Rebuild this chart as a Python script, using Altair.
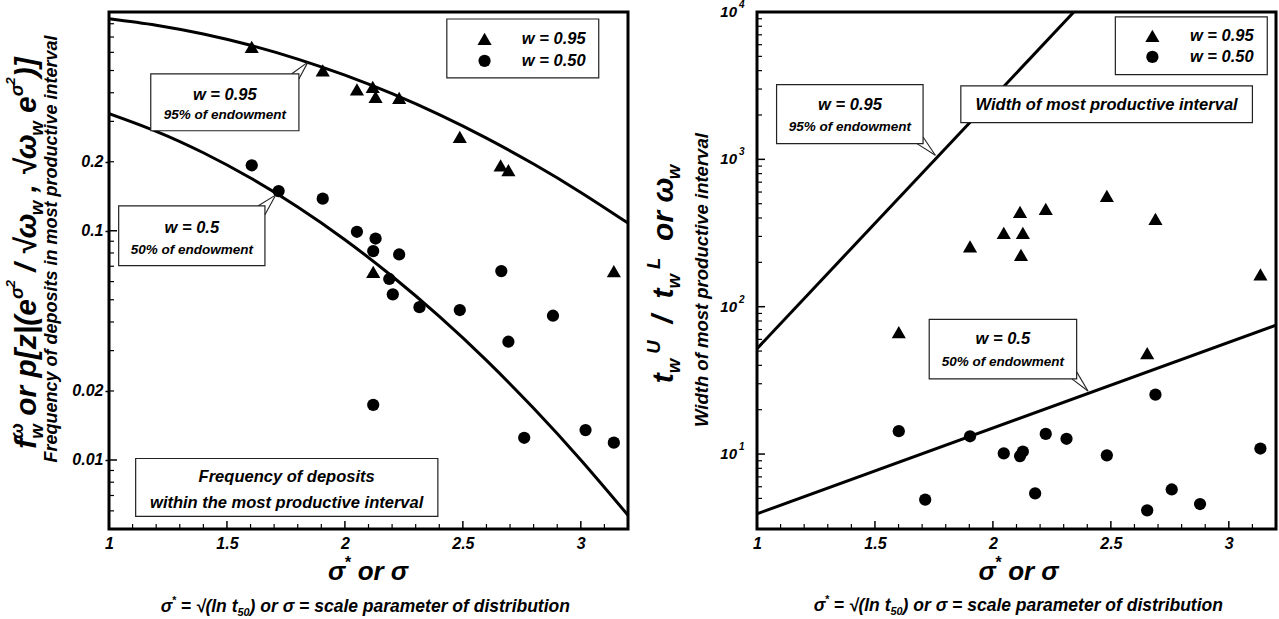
import altair as alt
import pandas as pd

FONT = "Liberation Sans"
PW, PH = 519, 517

# ---------------- data: left panel (frequency) ----------------
L_TRI_S = [1.605, 1.906, 2.051, 2.118, 2.13, 2.23, 2.487, 2.66, 2.693, 2.12, 3.14]
L_TRI_V = [0.634, 0.501, 0.414, 0.424, 0.384, 0.380, 0.257, 0.193, 0.184, 0.0662, 0.0667]
L_CIR_S = [1.605, 1.719, 1.906, 2.051, 2.13, 2.12, 2.23, 2.663, 2.188, 2.203, 2.316, 2.487,
           2.882, 2.693, 2.12, 2.76, 3.02, 3.14]
L_CIR_V = [0.193, 0.149, 0.138, 0.099, 0.0925, 0.0815, 0.0788, 0.0667, 0.0616, 0.0528, 0.0464,
           0.0451, 0.0426, 0.0328, 0.0174, 0.0125, 0.0135, 0.0119]
L_C95_S = [1.0, 1.2, 1.4, 1.6, 1.8, 2.0, 2.2, 2.4, 2.6, 2.8, 3.0, 3.2]
L_C95_V = [0.841, 0.788, 0.721, 0.644, 0.561, 0.477, 0.396, 0.321, 0.2535, 0.1954, 0.147, 0.108]
L_C50_S = [1.0, 1.2, 1.4, 1.6, 1.8, 2.0, 2.2, 2.4, 2.6, 2.8, 3.0, 3.2]
L_C50_V = [0.3243, 0.2716, 0.2189, 0.1698, 0.127, 0.0914, 0.0633, 0.0423, 0.0272, 0.0168,
           0.0100, 0.00574]

# ---------------- data: right panel (width) ----------------
R_TRI_S = [1.601, 1.903, 2.046, 2.115, 2.127, 2.119, 2.224, 2.483, 2.654, 2.689, 3.134]
R_TRI_V = [67.3, 257, 317, 440, 317, 225, 462, 565, 48.5, 395, 166]
R_CIR_S = [1.601, 1.713, 1.903, 2.046, 2.115, 2.127, 2.179, 2.224, 2.312, 2.483, 2.654, 2.689,
           2.758, 2.878, 3.134]
R_CIR_V = [14.3, 4.90, 13.2, 10.1, 9.69, 10.4, 5.41, 13.7, 12.7, 9.8, 4.15, 25.3, 5.75, 4.58, 10.9]
R_L95_S = [1.0, 2.343]
R_L95_V = [51.9, 10000]
R_L50_S = [1.0, 3.2]
R_L50_V = [3.93, 74.9]

# ---------------- axes / ticks ----------------
X_DOMAIN = [1, 3.2]
L_Y_DOMAIN = [0.005, 0.9]
R_Y_DOMAIN = [3.1, 10000]
X_LABELS = [1, 1.5, 2, 2.5, 3]
X_MINOR = [1.1, 1.2, 1.3, 1.4, 1.6, 1.7, 1.8, 1.9, 2.1, 2.2, 2.3, 2.4, 2.6, 2.7, 2.8, 2.9, 3.1]
L_Y_LABELS = [0.01, 0.02, 0.1, 0.2]
L_Y_MAJOR = [0.01, 0.1]
L_Y_MINOR = [0.006, 0.007, 0.008, 0.009, 0.02, 0.03, 0.04, 0.05, 0.06, 0.07, 0.08, 0.09,
             0.2, 0.3, 0.4, 0.5, 0.6, 0.7, 0.8]
R_Y_LABELS = [10, 100, 1000, 10000]
R_Y_EXP = ["1", "2", "3", "4"]
R_Y_MINOR = [4, 5, 6, 7, 8, 9, 20, 30, 40, 50, 60, 70, 80, 90, 200, 300, 400, 500, 600, 700,
             800, 900, 2000, 3000, 4000, 5000, 6000, 7000, 8000, 9000]

# ---------------- annotations ----------------
L_BOX_X0 = [1.177, 1.041, 1.113, 2.432]
L_BOX_X1 = [1.805, 1.661, 2.394, 3.076]
L_BOX_Y0 = [0.273, 0.0704, 0.00568, 0.464]
L_BOX_Y1 = [0.483, 0.1285, 0.01015, 0.839]
L_TXT = ["w = 0.95", "95% of endowment", "w = 0.5", "50% of endowment",
         "Frequency of deposits", "within the most productive interval"]
L_TXT_X = [1.491, 1.491, 1.351, 1.351, 1.753, 1.753]
L_TXT_Y = [0.392, 0.320, 0.103, 0.0826, 0.00839, 0.00646]
L_TXT_FS = [16.5, 13.5, 16.5, 13.5, 16.5, 16.5]
L_PTR_X0 = [1.775, 1.805, 1.633, 1.661]
L_PTR_Y0 = [0.484, 0.459, 0.1285, 0.1174]
L_PTR_X1 = [1.843, 1.843, 1.706, 1.706]
L_PTR_Y1 = [0.544, 0.544, 0.143, 0.143]
L_LEG_X, L_LEG_TX = 2.592, 2.75
L_LEG_Y = [0.687, 0.551]

R_BOX_X0 = [2.519, 1.864, 1.083, 1.730]
R_BOX_X1 = [3.163, 3.10, 1.704, 2.355]
R_BOX_Y0 = [3758, 1774, 1279, 32.4]
R_BOX_Y1 = [9270, 3148, 3214, 82.1]
R_TXT = ["Width of most productive interval", "w = 0.95", "95% of endowment",
         "w = 0.5", "50% of endowment"]
R_TXT_X = [2.482, 1.394, 1.394, 2.042, 2.042]
R_TXT_Y = [2339, 2339, 1667, 60.7, 42.4]
R_TXT_FS = [16.5, 16.5, 13.5, 16.5, 13.5]
R_PTR_X0 = [1.678, 1.704, 2.335, 2.355]
R_PTR_Y0 = [1279, 1419, 32.4, 36.1]
R_PTR_X1 = [1.756, 1.756, 2.403, 2.403]
R_PTR_Y1 = [1067, 1067, 26.8, 26.8]
R_LEG_X, R_LEG_TX = 2.676, 2.835
R_LEG_Y = [6890, 4955]
LEG_TXT = ["w = 0.95", "w = 0.50"]

# ---------------- rich (sub/superscript) titles ----------------
L_YT_BIG = [("f", "base"), ("w", "sub", True), ("ω", "sup"), (" or p[z|(e", "base"),
            ("σ", "sup"), ("2", "ss"), (" / √ω", "base"), ("w", "sub"), (" , √ω", "base"),
            ("w", "sub"), (" e", "base"), ("σ", "sup"), ("2", "ss"), (")]", "base")]
L_YT_SMALL = [("Frequency of deposits in most productive interval", "base")]
R_YT_BIG = [("t", "base"), ("w", "sub"), (" U", "sup"), ("  /", "base"), ("  t", "base"),
            ("w", "sub"), (" L", "sup"), ("  or", "base"), (" ω", "base"), ("w", "sub")]
R_YT_SMALL = [("Width of most productive interval", "base")]
XT = [("σ", "base"), ("*", "sup"), (" or σ", "base")]
SUBT = [("σ", "base"), ("*", "sup"), (" = √(ln t", "base"), ("50", "sub"),
        (") or σ = scale parameter of distribution", "base")]

CW = {' ': 278, '(': 333, ')': 333, '*': 389, ',': 278, '.': 278, '/': 278, '=': 584, '[': 333,
      ']': 333, '|': 280, '%': 889, 'F': 611, 'W': 944, 'U': 722, 'L': 611, 'σ': 620, 'ω': 780,
      '√': 549}
for _c in '0123456789':
    CW[_c] = 556
CW.update(dict(a=556, b=611, c=556, d=611, e=556, f=333, g=611, h=611, i=278, j=278, k=556,
               l=278, m=889, n=611, o=611, p=611, q=611, r=389, s=556, t=333, u=611, v=556,
               w=778, x=556, y=556, z=500))
SC = {'base': 1.0, 'sub': 0.62, 'sup': 0.62, 'ss': 0.45}
SH = {'base': 0.0, 'sub': -0.24, 'sup': 0.45, 'ss': 0.7}


def rich(segs, B, center, base, rotated=False):
    pieces, adv = [], 0.0
    for seg in segs:
        t, role = seg[0], seg[1]
        noadv = len(seg) > 2 and seg[2]
        fs = B * SC[role]
        lead = len(t) - len(t.lstrip(' '))
        w = sum(CW.get(c, 556) for c in t) / 1000 * fs
        pieces.append((t.strip(' '), fs, adv + lead * CW[' '] / 1000 * fs, SH[role] * B))
        if not noadv:
            adv += w
    rows = []
    for t, fs, a, sh in pieces:
        if rotated:
            rows.append(dict(px=base - sh, py=center + adv / 2 - a, text=t, fs=fs, ang=270))
        else:
            rows.append(dict(px=center - adv / 2 + a, py=base - sh, text=t, fs=fs, ang=0))
    return rows


TXT = dict(font=FONT, fontStyle="italic", fontWeight="bold", color="black")
XS = alt.Scale(domain=X_DOMAIN, nice=False, zero=False)
XAXIS = alt.Axis(values=X_LABELS, format="~g", labelFont=FONT, labelFontSize=16,
                 labelFontStyle="italic", labelFontWeight="bold", labelColor="black",
                 ticks=False, domain=False, grid=False, title=None, labelPadding=6,
                 labelFlush=False, zindex=2)


def panel(ys, yaxis, tri, cir, lines, interp, boxes, texts, ptrs, leg, rich_rows,
          ymajor, yminor, extra):
    def X(f):
        return alt.X(f"{f}:Q", scale=XS, axis=XAXIS)

    def Y(f):
        return alt.Y(f"{f}:Q", scale=ys, axis=yaxis)

    layers = list(extra)
    ldf = pd.concat([pd.DataFrame({"s": s, "v": v, "k": k}) for k, (s, v) in enumerate(lines)])
    layers.append(alt.Chart(ldf).mark_line(color="black", strokeWidth=3, interpolate=interp,
                                           clip=True).encode(x=X("s"), y=Y("v"), detail="k:N"))
    layers.append(alt.Chart(pd.DataFrame({"s": tri[0], "v": tri[1]})).mark_point(
        shape="triangle-up", filled=True, color="black", size=200, opacity=1).encode(x=X("s"), y=Y("v")))
    layers.append(alt.Chart(pd.DataFrame({"s": cir[0], "v": cir[1]})).mark_point(
        shape="circle", filled=True, color="black", size=150, opacity=1).encode(x=X("s"), y=Y("v")))
    bdf = pd.DataFrame({"x0": boxes[0], "x1": boxes[1], "y0": boxes[2], "y1": boxes[3]})
    layers.append(alt.Chart(bdf).mark_rect(fill="white", stroke="#222", strokeWidth=1.2).encode(
        x=X("x0"), x2="x1:Q", y=Y("y0"), y2="y1:Q"))
    pdf = pd.DataFrame({"x0": ptrs[0], "y0": ptrs[1], "x1": ptrs[2], "y1": ptrs[3]})
    layers.append(alt.Chart(pdf).mark_rule(color="#222", strokeWidth=1.1).encode(
        x=X("x0"), y=Y("y0"), x2="x1:Q", y2="y1:Q"))
    tdf = pd.DataFrame({"t": texts[0], "s": texts[1], "v": texts[2], "fs": texts[3]})
    layers.append(alt.Chart(tdf).mark_text(align="center", baseline="middle", **TXT).encode(
        x=X("s"), y=Y("v"), text="t:N", size=alt.Size("fs:Q", scale=None, legend=None)))
    # legend inside box
    layers.append(alt.Chart(pd.DataFrame({"s": [leg[0]], "v": [leg[2][0]]})).mark_point(
        shape="triangle-up", filled=True, color="black", size=200, opacity=1).encode(x=X("s"), y=Y("v")))
    layers.append(alt.Chart(pd.DataFrame({"s": [leg[0]], "v": [leg[2][1]]})).mark_point(
        shape="circle", filled=True, color="black", size=150, opacity=1).encode(x=X("s"), y=Y("v")))
    layers.append(alt.Chart(pd.DataFrame({"s": [leg[1]] * 2, "v": leg[2], "t": LEG_TXT})).mark_text(
        align="left", baseline="middle", fontSize=16.5, **TXT).encode(x=X("s"), y=Y("v"), text="t:N"))
    # ticks
    layers.append(alt.Chart(pd.DataFrame({"t": X_LABELS})).mark_rule(color="black", strokeWidth=1.5).encode(
        x=X("t"), y=alt.value(PH), y2=alt.value(PH - 8)))
    layers.append(alt.Chart(pd.DataFrame({"t": X_MINOR})).mark_rule(color="black", strokeWidth=1.2).encode(
        x=X("t"), y=alt.value(PH), y2=alt.value(PH - 5)))
    layers.append(alt.Chart(pd.DataFrame({"t": ymajor})).mark_rule(color="black", strokeWidth=1.5).encode(
        y=Y("t"), x=alt.value(0), x2=alt.value(8)))
    layers.append(alt.Chart(pd.DataFrame({"t": yminor})).mark_rule(color="black", strokeWidth=1.2).encode(
        y=Y("t"), x=alt.value(0), x2=alt.value(5)))
    # frame
    layers.append(alt.Chart(pd.DataFrame({"a": [0]})).mark_rect(
        fill="white", fillOpacity=0, stroke="black", strokeWidth=3).encode(
        x=alt.value(0), x2=alt.value(PW), y=alt.value(0), y2=alt.value(PH)))
    # rich titles
    layers.append(alt.Chart(pd.DataFrame(rich_rows)).mark_text(
        align="left", baseline="alphabetic", **TXT).encode(
        x=alt.X("px:Q", scale=None, axis=None), y=alt.Y("py:Q", scale=None, axis=None),
        text="text:N", size=alt.Size("fs:Q", scale=None, legend=None),
        angle=alt.Angle("ang:Q", scale=None)))
    return alt.layer(*layers).properties(width=PW, height=PH)


# ---------------- left panel ----------------
LYS = alt.Scale(type="log", domain=L_Y_DOMAIN, nice=False)
LYAXIS = alt.Axis(values=L_Y_LABELS, format="~g", labelFont=FONT, labelFontSize=16,
                  labelFontStyle="italic", labelFontWeight="bold", labelColor="black",
                  ticks=True, tickSize=4, tickColor="black", tickWidth=1.5, domain=False,
                  grid=False, title=None, labelPadding=2, zindex=2)
anchor = alt.Chart(pd.DataFrame({"a": [0]})).mark_rect(fill="white").encode(
    x=alt.value(-109), x2=alt.value(1170), y=alt.value(-10), y2=alt.value(609))
l_rich = (rich(L_YT_BIG, 30, 241, -73, True) + rich(L_YT_SMALL, 18, 237, -52, True)
          + rich(XT, 26, 258.5, 568) + rich(SUBT, 17.5, 256, 600))
left = panel(LYS, LYAXIS, (L_TRI_S, L_TRI_V), (L_CIR_S, L_CIR_V),
             [(L_C95_S, L_C95_V), (L_C50_S, L_C50_V)], "natural",
             (L_BOX_X0, L_BOX_X1, L_BOX_Y0, L_BOX_Y1),
             (L_TXT, L_TXT_X, L_TXT_Y, L_TXT_FS),
             (L_PTR_X0, L_PTR_Y0, L_PTR_X1, L_PTR_Y1),
             (L_LEG_X, L_LEG_TX, L_LEG_Y), l_rich, L_Y_MAJOR, L_Y_MINOR, [anchor])

# ---------------- right panel ----------------
RYS = alt.Scale(type="log", domain=R_Y_DOMAIN, nice=False)
RYAXIS = None
r_rich = (rich(R_YT_BIG, 30, 262, -84, True) + rich(R_YT_SMALL, 18.5, 268, -49, True)
          + rich(XT, 26, 261, 568) + rich(SUBT, 17.5, 261, 599))
ylab = pd.DataFrame({"v": R_Y_LABELS, "e": R_Y_EXP, "b": ["10"] * 4})
r_extra = [
    alt.Chart(ylab).mark_text(align="right", baseline="middle", fontSize=15, **TXT).encode(
        y=alt.Y("v:Q", scale=RYS, axis=None), x=alt.value(-20), text="b:N"),
    alt.Chart(ylab).mark_text(align="left", baseline="middle", fontSize=10, dy=-7, **TXT).encode(
        y=alt.Y("v:Q", scale=RYS, axis=None), x=alt.value(-18), text="e:N"),
]
right = panel(RYS, RYAXIS, (R_TRI_S, R_TRI_V), (R_CIR_S, R_CIR_V),
              [(R_L95_S, R_L95_V), (R_L50_S, R_L50_V)], "linear",
              (R_BOX_X0, R_BOX_X1, R_BOX_Y0, R_BOX_Y1),
              (R_TXT, R_TXT_X, R_TXT_Y, R_TXT_FS),
              (R_PTR_X0, R_PTR_Y0, R_PTR_X1, R_PTR_Y1),
              (R_LEG_X, R_LEG_TX, R_LEG_Y), r_rich, [10, 100, 1000, 10000], R_Y_MINOR, r_extra)

chart = alt.hconcat(left, right, spacing=129, bounds="flush").properties(
    padding=0, background="white").configure_view(strokeWidth=0)

chart.save("out.html", embed_options={"renderer": "svg", "actions": False})
